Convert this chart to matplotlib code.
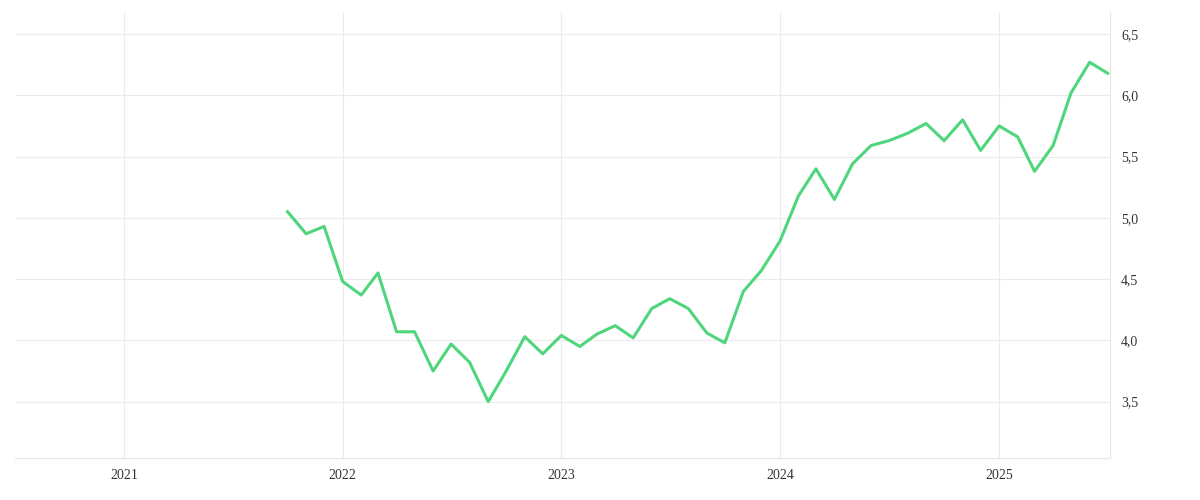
import numpy as np
import pandas as pd
import matplotlib
matplotlib.use("Agg")
import matplotlib.pyplot as plt
import matplotlib.dates as mdates
from matplotlib.ticker import FuncFormatter

# monthly values, Oct 2021 .. Jul 2025
months = pd.date_range("2021-10-01", periods=46, freq="MS")
values = [5.05, 4.87, 4.93, 4.48, 4.37, 4.55, 4.07, 4.07, 3.75, 3.97, 3.82, 3.50,
          3.75, 4.03, 3.89, 4.04, 3.95, 4.05, 4.12, 4.02, 4.26, 4.34, 4.26, 4.06,
          3.98, 4.40, 4.57, 4.81, 5.18, 5.40, 5.15, 5.44, 5.59, 5.63, 5.69, 5.77,
          5.63, 5.80, 5.55, 5.75, 5.66, 5.38, 5.59, 6.02, 6.27, 6.18]
y_ticks = [3.5, 4.0, 4.5, 5.0, 5.5, 6.0, 6.5]
year_ticks = [pd.Timestamp(f"{y}-01-01") for y in range(2021, 2026)]

plt.rcParams['font.family'] = ['Liberation Serif', 'DejaVu Serif']
fig = plt.figure(figsize=[12, 5], dpi=100)
ax = fig.add_axes([0.0125, 0.084, 0.9125, 0.892])

ax.plot(months, values, color="#4fd67c", lw=2.2)

ax.set_xlim(pd.Timestamp("2020-07-03"), pd.Timestamp("2025-07-05"))
ax.set_ylim(3.04, 6.68)
ax.set_xticks(year_ticks)
ax.xaxis.set_major_formatter(mdates.DateFormatter("%Y"))
ax.set_yticks(y_ticks)
ax.yaxis.set_major_formatter(FuncFormatter(lambda v, p: f"{v:.1f}".replace(".", ",")))
ax.yaxis.tick_right()

ax.grid(True, color="#ebebeb", lw=0.8)
for s in ["top", "left"]:
    ax.spines[s].set_visible(False)
ax.spines["right"].set_color("#e6e6e6")
ax.spines["bottom"].set_color("#e6e6e6")
ax.tick_params(length=0, labelsize=10, colors="#333333", pad=8)

plt.savefig("out.png")
